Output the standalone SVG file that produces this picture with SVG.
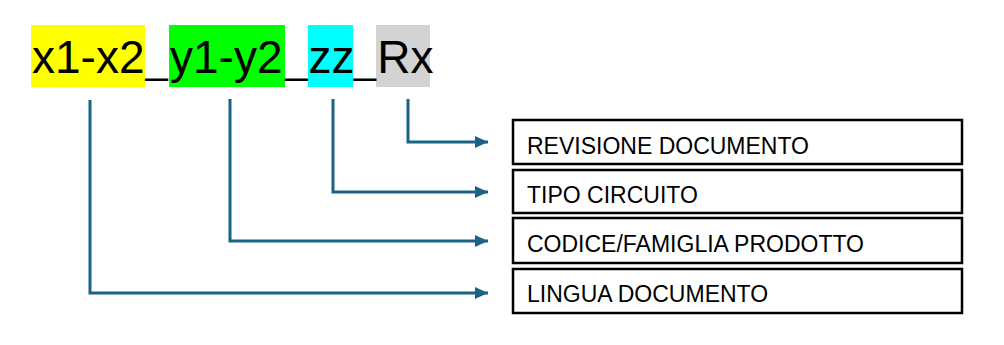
<svg xmlns="http://www.w3.org/2000/svg" width="1004" height="345" viewBox="0 0 1004 345">
<style>
.code{font-family:"Liberation Sans",Arial,sans-serif;font-size:46px;fill:#000}
.us{font-size:40px}
.box{fill:#fff;stroke:#000;stroke-width:2.5}
.lbl{font-family:"Liberation Sans",Arial,sans-serif;font-size:23px;fill:#000}
.conn{fill:none;stroke:#1b6386;stroke-width:3}
</style>
<defs>
<marker id="arr" markerUnits="userSpaceOnUse" markerWidth="14" markerHeight="14" refX="13" refY="7" orient="auto">
<path d="M0,1 L13,7 L0,13 Z" fill="#1b6386"/>
</marker>
</defs>
<rect width="1004" height="345" fill="#fff"/>
<g id="code">
<rect x="31" y="25" width="114" height="62" fill="#ffff00"/>
<rect x="169" y="25" width="116" height="62" fill="#00ff00"/>
<rect x="308" y="25" width="45" height="62" fill="#00ffff"/>
<rect x="376" y="25" width="54" height="62" fill="#d3d3d3"/>
<text class="code" y="73"><tspan x="32">x1-x2</tspan><tspan class="us" x="145.5">_</tspan><tspan x="170">y1-y2</tspan><tspan class="us" x="285.2">_</tspan><tspan x="308.5">zz</tspan><tspan class="us" x="353.8">_</tspan><tspan x="377.2">Rx</tspan></text>
</g>
<g id="connectors">
<path class="conn" d="M408,99 V142 H488" marker-end="url(#arr)"/>
<path class="conn" d="M333,99 V192 H488" marker-end="url(#arr)"/>
<path class="conn" d="M230,99 V241 H488" marker-end="url(#arr)"/>
<path class="conn" d="M90,100 V293 H488" marker-end="url(#arr)"/>
</g>
<g id="revisione">
<rect class="box" x="513" y="120" width="449" height="44"/>
<text class="lbl" x="527" y="154">REVISIONE DOCUMENTO</text>
</g>
<g id="tipo">
<rect class="box" x="513" y="170" width="449" height="43"/>
<text class="lbl" x="527" y="203">TIPO CIRCUITO</text>
</g>
<g id="codice">
<rect class="box" x="513" y="218" width="449" height="45"/>
<text class="lbl" x="527" y="252">CODICE/FAMIGLIA PRODOTTO</text>
</g>
<g id="lingua">
<rect class="box" x="513" y="269" width="449" height="44"/>
<text class="lbl" x="527" y="302">LINGUA DOCUMENTO</text>
</g>
</svg>
